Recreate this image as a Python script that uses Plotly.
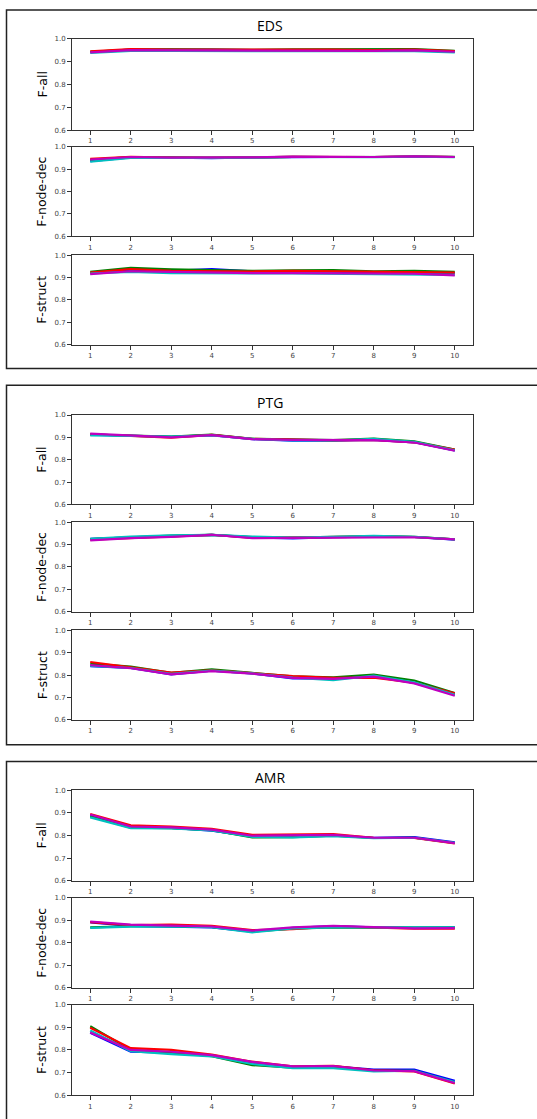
import plotly.graph_objects as go
from plotly.subplots import make_subplots

W, H = 537, 1119

steps = [1, 2, 3, 4, 5, 6, 7, 8, 9, 10]
y_ticks = [0.6, 0.7, 0.8, 0.9, 1.0]
datasets = ["EDS", "PTG", "AMR"]
metrics = ["F-all", "F-node-dec", "F-struct"]
series_names = ["b", "g", "r", "c", "m"]
series_colors = ["#0000ff", "#008000", "#ff0000", "#00bfbf", "#bf00bf"]

# ---- EDS ----
eds_all_b = [0.942, 0.952, 0.952, 0.953, 0.950, 0.951, 0.950, 0.949, 0.951, 0.944]
eds_all_g = [0.943, 0.953, 0.954, 0.953, 0.951, 0.954, 0.954, 0.952, 0.955, 0.947]
eds_all_r = [0.945, 0.955, 0.952, 0.951, 0.950, 0.952, 0.952, 0.950, 0.952, 0.946]
eds_all_c = [0.938, 0.947, 0.947, 0.945, 0.946, 0.946, 0.945, 0.945, 0.946, 0.940]
eds_all_m = [0.940, 0.950, 0.949, 0.948, 0.948, 0.949, 0.948, 0.947, 0.949, 0.943]

eds_node_b = [0.936, 0.953, 0.952, 0.950, 0.953, 0.955, 0.955, 0.955, 0.957, 0.955]
eds_node_g = [0.942, 0.955, 0.953, 0.951, 0.953, 0.956, 0.955, 0.956, 0.958, 0.956]
eds_node_r = [0.947, 0.956, 0.952, 0.951, 0.953, 0.956, 0.955, 0.955, 0.958, 0.955]
eds_node_c = [0.934, 0.951, 0.951, 0.950, 0.952, 0.955, 0.954, 0.954, 0.957, 0.954]
eds_node_m = [0.944, 0.955, 0.952, 0.951, 0.953, 0.957, 0.955, 0.955, 0.958, 0.955]

eds_struct_b = [0.920, 0.935, 0.930, 0.938, 0.928, 0.928, 0.926, 0.922, 0.922, 0.920]
eds_struct_g = [0.925, 0.943, 0.937, 0.932, 0.930, 0.932, 0.933, 0.928, 0.930, 0.925]
eds_struct_r = [0.922, 0.938, 0.930, 0.928, 0.927, 0.930, 0.928, 0.927, 0.927, 0.922]
eds_struct_c = [0.918, 0.925, 0.920, 0.918, 0.918, 0.918, 0.917, 0.915, 0.915, 0.912]
eds_struct_m = [0.915, 0.928, 0.925, 0.922, 0.920, 0.920, 0.918, 0.917, 0.917, 0.910]

# ---- PTG ----
ptg_all_b = [0.912, 0.906, 0.902, 0.910, 0.892, 0.885, 0.885, 0.889, 0.878, 0.842]
ptg_all_g = [0.913, 0.908, 0.903, 0.912, 0.894, 0.891, 0.888, 0.895, 0.882, 0.845]
ptg_all_r = [0.914, 0.906, 0.899, 0.911, 0.893, 0.890, 0.887, 0.889, 0.878, 0.845]
ptg_all_c = [0.909, 0.907, 0.904, 0.909, 0.893, 0.887, 0.886, 0.893, 0.880, 0.842]
ptg_all_m = [0.917, 0.907, 0.900, 0.910, 0.892, 0.889, 0.887, 0.888, 0.877, 0.840]

ptg_node_b = [0.926, 0.932, 0.938, 0.944, 0.932, 0.928, 0.933, 0.936, 0.934, 0.922]
ptg_node_g = [0.925, 0.934, 0.940, 0.944, 0.934, 0.931, 0.934, 0.938, 0.935, 0.924]
ptg_node_r = [0.922, 0.930, 0.936, 0.944, 0.930, 0.932, 0.933, 0.936, 0.934, 0.924]
ptg_node_c = [0.926, 0.936, 0.941, 0.944, 0.936, 0.931, 0.935, 0.939, 0.935, 0.923]
ptg_node_m = [0.919, 0.929, 0.935, 0.944, 0.929, 0.930, 0.932, 0.935, 0.933, 0.923]

ptg_struct_b = [0.840, 0.832, 0.803, 0.820, 0.808, 0.785, 0.785, 0.796, 0.765, 0.714]
ptg_struct_g = [0.852, 0.838, 0.810, 0.826, 0.810, 0.795, 0.790, 0.802, 0.776, 0.720]
ptg_struct_r = [0.859, 0.835, 0.812, 0.822, 0.810, 0.796, 0.788, 0.789, 0.766, 0.719]
ptg_struct_c = [0.842, 0.832, 0.806, 0.820, 0.808, 0.789, 0.778, 0.798, 0.768, 0.712]
ptg_struct_m = [0.845, 0.831, 0.804, 0.818, 0.807, 0.788, 0.783, 0.793, 0.763, 0.708]

# ---- AMR ----
amr_all_b = [0.889, 0.836, 0.834, 0.822, 0.796, 0.796, 0.800, 0.790, 0.793, 0.770]
amr_all_g = [0.885, 0.835, 0.833, 0.824, 0.792, 0.793, 0.799, 0.789, 0.790, 0.767]
amr_all_r = [0.895, 0.845, 0.840, 0.830, 0.803, 0.803, 0.806, 0.790, 0.789, 0.765]
amr_all_c = [0.880, 0.833, 0.832, 0.823, 0.794, 0.792, 0.797, 0.788, 0.790, 0.768]
amr_all_m = [0.893, 0.840, 0.836, 0.826, 0.799, 0.800, 0.803, 0.790, 0.790, 0.766]

amr_node_b = [0.890, 0.875, 0.871, 0.868, 0.849, 0.866, 0.874, 0.868, 0.866, 0.868]
amr_node_g = [0.868, 0.873, 0.873, 0.870, 0.850, 0.862, 0.868, 0.868, 0.866, 0.867]
amr_node_r = [0.891, 0.878, 0.880, 0.875, 0.856, 0.860, 0.872, 0.868, 0.862, 0.862]
amr_node_c = [0.866, 0.871, 0.872, 0.869, 0.846, 0.863, 0.868, 0.867, 0.866, 0.868]
amr_node_m = [0.894, 0.880, 0.876, 0.872, 0.854, 0.868, 0.875, 0.868, 0.864, 0.865]

amr_struct_b = [0.876, 0.793, 0.788, 0.775, 0.745, 0.725, 0.727, 0.713, 0.713, 0.663]
amr_struct_g = [0.905, 0.800, 0.790, 0.773, 0.733, 0.722, 0.725, 0.708, 0.708, 0.656]
amr_struct_r = [0.898, 0.808, 0.800, 0.780, 0.748, 0.728, 0.730, 0.710, 0.705, 0.652]
amr_struct_c = [0.886, 0.795, 0.782, 0.772, 0.738, 0.720, 0.720, 0.705, 0.708, 0.658]
amr_struct_m = [0.877, 0.800, 0.792, 0.777, 0.747, 0.727, 0.729, 0.709, 0.706, 0.654]

panels = [
    [
        [eds_all_b, eds_all_g, eds_all_r, eds_all_c, eds_all_m],
        [eds_node_b, eds_node_g, eds_node_r, eds_node_c, eds_node_m],
        [eds_struct_b, eds_struct_g, eds_struct_r, eds_struct_c, eds_struct_m],
    ],
    [
        [ptg_all_b, ptg_all_g, ptg_all_r, ptg_all_c, ptg_all_m],
        [ptg_node_b, ptg_node_g, ptg_node_r, ptg_node_c, ptg_node_m],
        [ptg_struct_b, ptg_struct_g, ptg_struct_r, ptg_struct_c, ptg_struct_m],
    ],
    [
        [amr_all_b, amr_all_g, amr_all_r, amr_all_c, amr_all_m],
        [amr_node_b, amr_node_g, amr_node_r, amr_node_c, amr_node_m],
        [amr_struct_b, amr_struct_g, amr_struct_r, amr_struct_c, amr_struct_m],
    ],
]

# pixel layout (top, bottom) of each subplot, grouped by dataset
axis_rows = [
    [(35, 127), (144, 234), (253, 343)],
    [(414, 504), (522, 612), (631, 721)],
    [(792, 883), (900, 991), (1008, 1099)],
]
box_rows = [(6, 367), (384, 746), (763, 1130)]
title_y = [22, 401, 779]
plot_left, plot_right = 72, 473


def px_x(p):
    return p / W


def px_y(p):
    return 1 - p / H


fig = make_subplots(rows=9, cols=1)

annotations = []
shapes = []
for d, name in enumerate(datasets):
    for m, metric in enumerate(metrics):
        idx = d * 3 + m + 1
        for s in range(5):
            fig.add_trace(
                go.Scatter(
                    x=steps,
                    y=panels[d][m][s],
                    mode="lines",
                    line=dict(color=series_colors[s], width=2.2),
                    name=series_names[s],
                    showlegend=False,
                    hoverinfo="skip",
                ),
                row=idx,
                col=1,
            )
        top, bot = axis_rows[d][m]
        suffix = "" if idx == 1 else str(idx)
        fig.layout["xaxis" + suffix].update(
            domain=[px_x(plot_left), px_x(plot_right)],
            range=[0.55, 10.45],
            tickvals=steps,
            ticktext=[str(v) for v in steps],
            ticks="outside",
            ticklen=4,
            tickwidth=1,
            tickcolor="#333333",
            tickfont=dict(size=7, color="#444444", family="DejaVu Sans"),
            showline=True,
            linecolor="#333333",
            linewidth=1,
            mirror=True,
            showgrid=False,
            zeroline=False,
        )
        fig.layout["yaxis" + suffix].update(
            domain=[px_y(bot), px_y(top)],
            range=[0.6, 1.0],
            tickvals=y_ticks,
            ticktext=["%.1f" % v for v in y_ticks],
            ticks="outside",
            ticklen=4,
            tickwidth=1,
            tickcolor="#333333",
            tickfont=dict(size=7, color="#444444", family="DejaVu Sans"),
            showline=True,
            linecolor="#333333",
            linewidth=1,
            mirror=True,
            showgrid=False,
            zeroline=False,
        )
        annotations.append(
            dict(
                x=px_x(42),
                y=px_y((top + bot) / 2),
                xref="paper",
                yref="paper",
                text=metric,
                textangle=-90,
                showarrow=False,
                xanchor="center",
                yanchor="middle",
                font=dict(size=12.5, color="#000000", family="DejaVu Sans"),
            )
        )
    annotations.append(
        dict(
            x=px_x(270),
            y=px_y(title_y[d]),
            xref="paper",
            yref="paper",
            text=name,
            showarrow=False,
            xanchor="center",
            yanchor="middle",
            font=dict(size=14, color="#000000", family="Open Sans"),
        )
    )
    b0, b1 = box_rows[d]
    shapes.append(
        dict(
            type="rect",
            xref="paper",
            yref="paper",
            x0=px_x(6.5),
            x1=px_x(560),
            y0=px_y(b1),
            y1=px_y(b0),
            line=dict(color="#222222", width=1.5),
            fillcolor="rgba(0,0,0,0)",
            layer="below",
        )
    )

fig.update_layout(
    width=W,
    height=H,
    margin=dict(l=0, r=0, t=0, b=0),
    paper_bgcolor="#ffffff",
    plot_bgcolor="#ffffff",
    annotations=annotations,
    shapes=shapes,
    showlegend=False,
)

fig.write_html("out.html")
